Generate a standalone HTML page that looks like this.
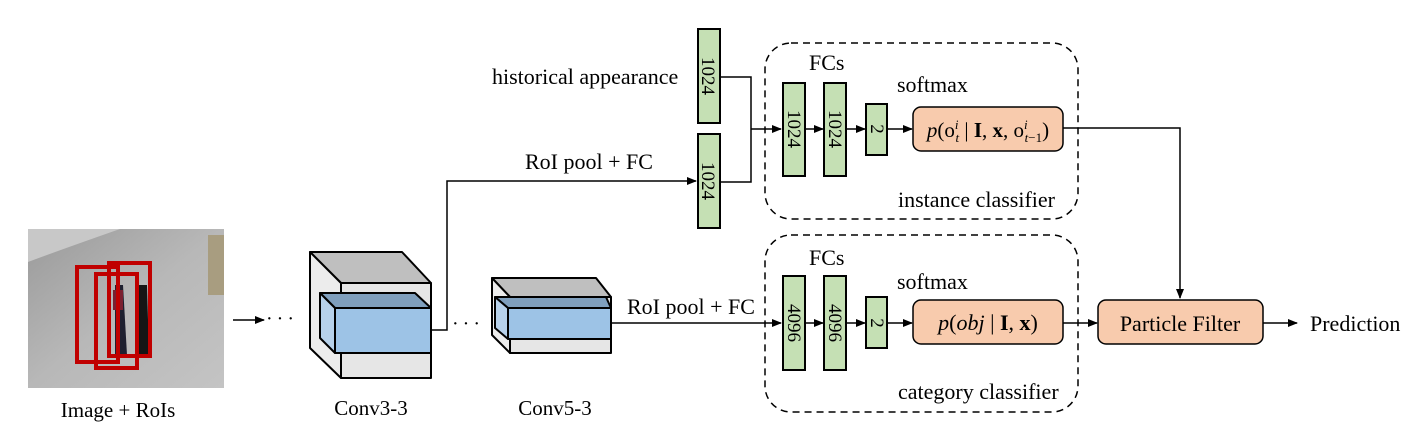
<!DOCTYPE html>
<html><head><meta charset="utf-8"><style>
html,body{margin:0;padding:0;background:#fff}
svg{display:block}
text{font-family:"Liberation Serif",serif;fill:#000}
</style></head><body>
<svg width="1419" height="437" viewBox="0 0 1419 437" xmlns="http://www.w3.org/2000/svg">
<defs>
<marker id="ah" markerWidth="10" markerHeight="8" refX="9" refY="4" orient="auto" markerUnits="userSpaceOnUse">
<path d="M0,0 L10,4 L0,8 z" fill="#000"/></marker>
<linearGradient id="ph" x1="0" y1="0" x2="1" y2="1">
<stop offset="0" stop-color="#9a9a9a"/><stop offset="0.5" stop-color="#b8b8b8"/><stop offset="1" stop-color="#c4c4c4"/></linearGradient>
</defs>
<!-- photo -->
<rect x="28" y="229" width="196" height="159" fill="url(#ph)"/>
<path d="M28,229 L120,229 Q60,250 28,262 Z" fill="#c8c8c8"/>
<rect x="208" y="235" width="16" height="60" fill="#a89d80"/>
<path d="M115,285 l8,0 l4,70 l-12,0 z" fill="#1e2030"/>
<path d="M113,290 l10,0 l0,20 l-10,0 z" fill="#7a2030"/>
<path d="M138,285 l9,0 l2,70 l-10,0 z" fill="#151515"/>
<g fill="none" stroke="#c00000" stroke-width="4">
<rect x="77" y="267" width="41" height="95"/>
<rect x="96" y="274" width="41" height="94"/>
<rect x="109" y="263" width="41" height="93"/>
</g>
<text x="118" y="417" font-size="21" text-anchor="middle">Image + RoIs</text>
<line x1="233" y1="320" x2="264" y2="320" stroke="#000" stroke-width="1.5" marker-end="url(#ah)"/>
<text x="266" y="325" font-size="20" letter-spacing="4">···</text>
<!-- conv3-3 -->
<g stroke="#000" stroke-width="2" stroke-linejoin="round">
<polygon points="310,252 402,252 431,283 341,283" fill="#bfbfbf"/>
<polygon points="310,252 341,283 341,378 310,348" fill="#ececec"/>
<rect x="341" y="283" width="90" height="95" fill="#e6e6e6"/>
<polygon points="320,293 415,293 431,308 335,308" fill="#7f9fbd"/>
<polygon points="320,293 335,308 335,353 320,338" fill="#b7d1ea"/>
<rect x="335" y="308" width="96" height="45" fill="#9dc3e6"/>
</g>
<text x="371" y="415" font-size="21" text-anchor="middle">Conv3-3</text>
<polyline points="431,330 447,330 447,181 696,181" fill="none" stroke="#000" stroke-width="1.5" marker-end="url(#ah)"/>
<text x="525" y="169" font-size="22">RoI pool + FC</text>
<text x="452" y="330" font-size="20" letter-spacing="4">···</text>
<!-- conv5-3 -->
<g stroke="#000" stroke-width="2" stroke-linejoin="round">
<polygon points="492,278 596,278 611,297 510,297" fill="#bfbfbf"/>
<polygon points="492,278 510,297 510,353 492,335" fill="#ececec"/>
<rect x="510" y="297" width="101" height="56" fill="#e6e6e6"/>
<polygon points="495,297 606,297 611,308 508,308" fill="#7f9fbd"/>
<polygon points="495,297 508,308 508,339 495,328" fill="#b7d1ea"/>
<rect x="508" y="308" width="103" height="31" fill="#9dc3e6"/>
</g>
<text x="555" y="415" font-size="21" text-anchor="middle">Conv5-3</text>
<line x1="611" y1="323" x2="781" y2="323" stroke="#000" stroke-width="1.5" marker-end="url(#ah)"/>
<text x="627" y="314" font-size="22">RoI pool + FC</text>
<!-- top inputs -->
<text x="492" y="84" font-size="22">historical appearance</text>
<g stroke="#000" stroke-width="2" fill="#c5e0b4">
<rect x="698" y="29" width="22" height="94"/>
<rect x="698" y="134" width="22" height="94"/>
</g>
<text transform="translate(702,76) rotate(90)" font-size="19" text-anchor="middle">1024</text>
<text transform="translate(702,181) rotate(90)" font-size="19" text-anchor="middle">1024</text>
<polyline points="720,77 751,77 751,182 720,182" fill="none" stroke="#000" stroke-width="1.5"/>
<line x1="751" y1="129" x2="781" y2="129" stroke="#000" stroke-width="1.5" marker-end="url(#ah)"/>
<!-- instance classifier -->
<rect x="765" y="43" width="313" height="176" rx="26" fill="none" stroke="#000" stroke-width="1.5" stroke-dasharray="7,5"/>
<text x="809" y="70" font-size="22">FCs</text>
<text x="897" y="92" font-size="22">softmax</text>
<text x="898" y="207" font-size="22">instance classifier</text>
<g stroke="#000" stroke-width="2" fill="#c5e0b4">
<rect x="783" y="83" width="22" height="93"/>
<rect x="824" y="83" width="22" height="93"/>
<rect x="866" y="104" width="21" height="51"/>
</g>
<text transform="translate(788,129) rotate(90)" font-size="19" text-anchor="middle">1024</text>
<text transform="translate(829,129) rotate(90)" font-size="19" text-anchor="middle">1024</text>
<text transform="translate(871,129) rotate(90)" font-size="19" text-anchor="middle">2</text>
<line x1="805" y1="129" x2="823" y2="129" stroke="#000" stroke-width="1.5" marker-end="url(#ah)"/>
<line x1="846" y1="129" x2="865" y2="129" stroke="#000" stroke-width="1.5" marker-end="url(#ah)"/>
<line x1="887" y1="129" x2="912" y2="129" stroke="#000" stroke-width="1.5" marker-end="url(#ah)"/>
<rect x="913" y="107" width="150" height="44" rx="8" fill="#f8cbad" stroke="#000" stroke-width="1.5"/>
<text x="988" y="137" font-size="21" text-anchor="middle"><tspan font-style="italic">p</tspan>(o<tspan font-size="13" dy="-8" font-style="italic">i</tspan><tspan font-size="13" dx="-3" dy="13" font-style="italic">t</tspan><tspan dy="-5"> | </tspan><tspan font-weight="bold">I</tspan>, <tspan font-weight="bold">x</tspan>, o<tspan font-size="13" dy="-8" font-style="italic">i</tspan><tspan font-size="13" dx="-3" dy="13" font-style="italic">t</tspan><tspan font-size="13">−1</tspan><tspan dy="-5">)</tspan></text>
<polyline points="1063,128 1180,128 1180,298" fill="none" stroke="#000" stroke-width="1.5" marker-end="url(#ah)"/>
<!-- category classifier -->
<rect x="765" y="235" width="313" height="177" rx="26" fill="none" stroke="#000" stroke-width="1.5" stroke-dasharray="7,5"/>
<text x="809" y="265" font-size="22">FCs</text>
<text x="897" y="289" font-size="22">softmax</text>
<text x="898" y="399" font-size="22">category classifier</text>
<g stroke="#000" stroke-width="2" fill="#c5e0b4">
<rect x="783" y="276" width="22" height="94"/>
<rect x="824" y="276" width="22" height="94"/>
<rect x="866" y="297" width="21" height="51"/>
</g>
<text transform="translate(788,323) rotate(90)" font-size="19" text-anchor="middle">4096</text>
<text transform="translate(829,323) rotate(90)" font-size="19" text-anchor="middle">4096</text>
<text transform="translate(871,323) rotate(90)" font-size="19" text-anchor="middle">2</text>
<line x1="805" y1="323" x2="823" y2="323" stroke="#000" stroke-width="1.5" marker-end="url(#ah)"/>
<line x1="846" y1="323" x2="865" y2="323" stroke="#000" stroke-width="1.5" marker-end="url(#ah)"/>
<line x1="887" y1="323" x2="912" y2="323" stroke="#000" stroke-width="1.5" marker-end="url(#ah)"/>
<rect x="913" y="300" width="150" height="44" rx="8" fill="#f8cbad" stroke="#000" stroke-width="1.5"/>
<text x="988" y="330" font-size="22" text-anchor="middle"><tspan font-style="italic">p</tspan>(<tspan font-style="italic">obj</tspan> | <tspan font-weight="bold">I</tspan>, <tspan font-weight="bold">x</tspan>)</text>
<line x1="1063" y1="323" x2="1097" y2="323" stroke="#000" stroke-width="1.5" marker-end="url(#ah)"/>
<rect x="1098" y="300" width="165" height="44" rx="8" fill="#f8cbad" stroke="#000" stroke-width="1.5"/>
<text x="1180" y="331" font-size="22" text-anchor="middle">Particle Filter</text>
<line x1="1263" y1="323" x2="1297" y2="323" stroke="#000" stroke-width="1.5" marker-end="url(#ah)"/>
<text x="1310" y="331" font-size="22">Prediction</text>
</svg>
</body></html>
